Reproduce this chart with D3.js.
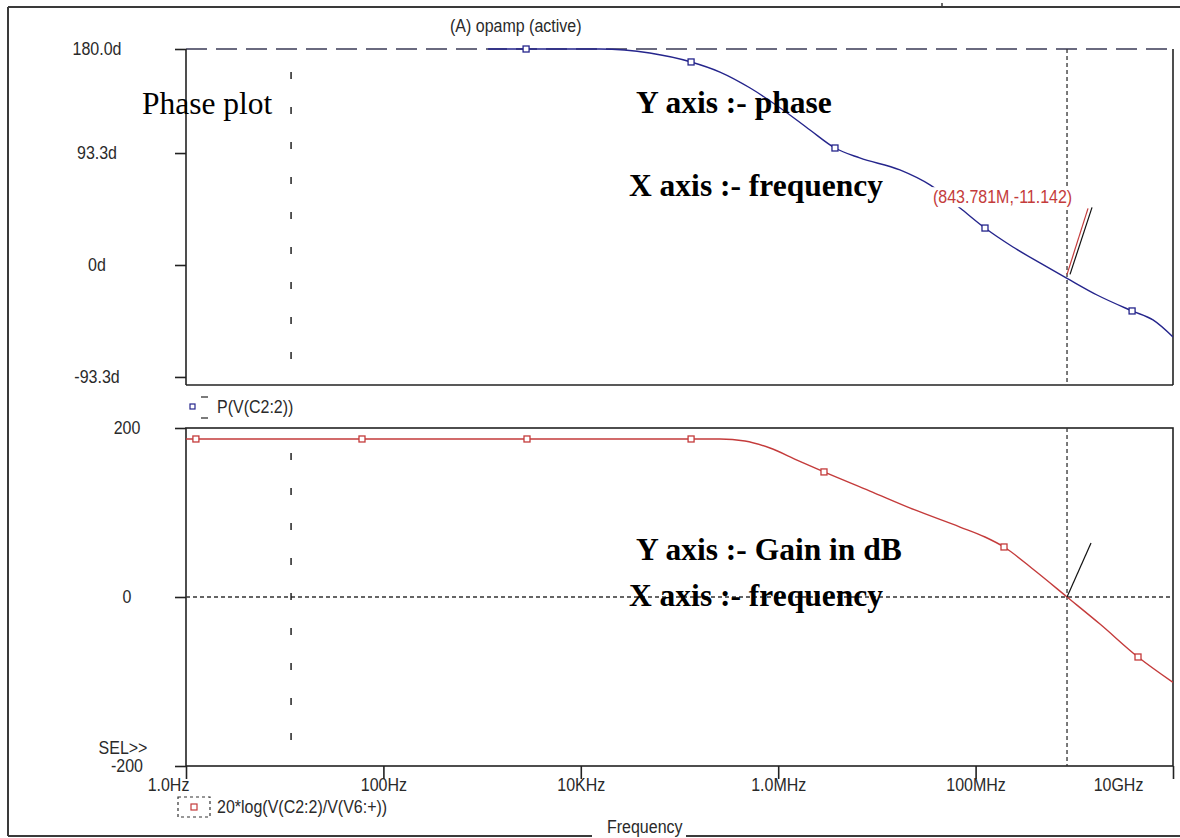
<!DOCTYPE html>
<html>
<head>
<meta charset="utf-8">
<script src="https://cdn.jsdelivr.net/npm/d3@7"></script>
<style>
  html, body { margin: 0; padding: 0; background: #fff; }
  svg { display: block; }
</style>
</head>
<body>
<svg id="chart" width="1180" height="838"></svg>
<script>
// ---- data -------------------------------------------------------------
const decadeTicks  = [1, 1e2, 1e4, 1e6, 1e8, 1e10];
const decadeLabels = ["1.0Hz", "100Hz", "10KHz", "1.0MHz", "100MHz", "10GHz"];

const phaseTicks      = [180, 93.3, 0, -93.3];
const phaseTickLabels = ["180.0d", "93.3d", "0d", "-93.3d"];
const gainTicks       = [200, 0, -200];
const gainTickLabels  = ["200", "0", "-200"];

// P(V(C2:2)) in degrees vs frequency (Hz)
const phaseFreq = [1.15e3, 1.55e4, 5.0e4, 1.31e5, 2.57e5, 5.2e5, 1.12e6, 2.1e6, 3.76e6,
                   6.7e6, 1.71e7, 3.45e7, 6.95e7, 1.245e8, 2.39e8, 4.49e8, 8.44e8,
                   1.7e9, 3.85e9, 6.27e9, 1e10];
const phaseDeg  = [180, 180, 176.7, 169.2, 160.8, 147.5, 129.2, 112.5, 97.5,
                   89.2, 79.2, 66.7, 47.5, 30.8, 15, 1.7, -11.14,
                   -25, -38.3, -45.8, -60];
const phaseMarkFreq = [2.79e3, 1.31e5, 3.76e6, 1.245e8, 3.85e9];
const phaseMarkDeg  = [180, 169.2, 97.5, 30.8, -38.3];

// 20*log(V(C2:2)/V(V6:+)) in dB vs frequency (Hz)
const gainFreq = [1, 2.57e5, 4.6e5, 8.26e5, 1.55e6, 2.91e6, 8.5e6, 2.43e7, 6.95e7, 1.245e8,
                  1.94e8, 4.0e8, 8.44e8, 1.82e9, 4.42e9, 1e10];
const gainDb   = [187, 187, 184.6, 176.3, 162.1, 148, 125.4, 103, 82.8, 71,
                  59.2, 31, 0, -32, -71, -101];
const gainMarkFreq = [1.26, 60.7, 2.85e3, 1.31e5, 2.91e6, 1.94e8, 4.42e9];
const gainMarkDb   = [187, 187, 187, 187, 148, 59.2, -71];

const refLineFreq = 11.6;          // fixed vertical reference line
const cursorFreq  = 843.781e6;     // cursor A1
const cursorPhase = -11.142;
const cursorLabel = "(843.781M,-11.142)";

// ---- layout ------------------------------------------------------------
const svg = d3.select("#chart");
const L = 186, R = 1173;
const pTop = 49, pBot = 385;
const gTop = 428, gBot = 766;
const STRETCH = 1.12;              // PSpice screen font is slightly tall

const NAVY = "#25258c", RED = "#c43b3b", INK = "#222";
const SANS = "'Liberation Sans', Arial, sans-serif";
const SERIF = "'Liberation Serif', 'Times New Roman', serif";

const x  = d3.scaleLog().domain([1, 1e10]).range([L, R]);
const yP = d3.scaleLinear().domain([-100, 180]).range([pBot, pTop]);
const yG = d3.scaleLinear().domain([-200, 200]).range([gBot, gTop]);

const defs = svg.append("defs");
defs.append("clipPath").attr("id", "clipP").append("rect")
  .attr("x", L).attr("y", pTop - 2).attr("width", R - L).attr("height", pBot - pTop + 2);
defs.append("clipPath").attr("id", "clipG").append("rect")
  .attr("x", L).attr("y", gTop).attr("width", R - L).attr("height", gBot - gTop);

// outer window frame
const frame = svg.append("g").attr("stroke", "#3a3a3a").attr("stroke-width", 2).attr("fill", "none");
frame.append("line").attr("x1", 8).attr("y1", 7).attr("x2", 8).attr("y2", 836);
frame.append("line").attr("x1", 8).attr("y1", 7).attr("x2", 1180).attr("y2", 7);
frame.append("line").attr("x1", 8).attr("y1", 836).attr("x2", 592).attr("y2", 836);
frame.append("line").attr("x1", 686).attr("y1", 836).attr("x2", 1180).attr("y2", 836);
frame.append("line").attr("x1", 942).attr("y1", 3).attr("x2", 942).attr("y2", 8).attr("stroke-width", 1.5);

// ---- plot boxes ----------------------------------------------------------
const box = svg.append("g").attr("stroke", INK).attr("stroke-width", 1.6).attr("fill", "none");
// phase plot: dashed top edge, solid left/right/bottom
box.append("line").attr("x1", L).attr("y1", pTop).attr("x2", R).attr("y2", pTop)
  .attr("stroke", "#3a3a55").attr("stroke-dasharray", "21,9");
box.append("line").attr("x1", L).attr("y1", pTop).attr("x2", L).attr("y2", pBot);
box.append("line").attr("x1", R).attr("y1", pTop).attr("x2", R).attr("y2", pBot);
box.append("line").attr("x1", L).attr("y1", pBot).attr("x2", R).attr("y2", pBot);
// gain plot
box.append("rect").attr("x", L).attr("y", gTop).attr("width", R - L).attr("height", gBot - gTop);

// zero-dB grid line
svg.append("line")
  .attr("x1", L).attr("x2", R).attr("y1", yG(0)).attr("y2", yG(0))
  .attr("stroke", "#333").attr("stroke-width", 1.3).attr("stroke-dasharray", "4,3");

// reference line (sparse dashes) in both plots
[[pTop, pBot, 12], [gTop, gBot, 10]].forEach(([a, b, off]) => {
  svg.append("line")
    .attr("x1", x(refLineFreq)).attr("x2", x(refLineFreq)).attr("y1", a).attr("y2", b)
    .attr("stroke", INK).attr("stroke-width", 1.5)
    .attr("stroke-dasharray", "7,28").attr("stroke-dashoffset", off);
});

// cursor line in both plots
[[pTop, pBot], [gTop, gBot]].forEach(([a, b]) => {
  svg.append("line")
    .attr("x1", x(cursorFreq)).attr("x2", x(cursorFreq)).attr("y1", a).attr("y2", b)
    .attr("stroke", "#333").attr("stroke-width", 1.3).attr("stroke-dasharray", "4,3");
});

// ---- axes --------------------------------------------------------------
function styleAxis(g) {
  g.select(".domain").remove();
  g.selectAll(".tick line").attr("stroke", INK).attr("stroke-width", 1.6);
  g.selectAll(".tick text").attr("fill", "#2a2a2a")
    .style("font-family", SANS).style("font-size", "16px")
    .attr("transform", `scale(1,${STRETCH})`);
}

const axP = svg.append("g").attr("transform", `translate(${L},0)`)
  .call(d3.axisLeft(yP).tickValues(phaseTicks).tickSize(11)
    .tickFormat((d, i) => phaseTickLabels[i]));
styleAxis(axP);
axP.selectAll(".tick text").attr("x", -89).attr("text-anchor", "middle");

const axG = svg.append("g").attr("transform", `translate(${L},0)`)
  .call(d3.axisLeft(yG).tickValues(gainTicks).tickSize(11)
    .tickFormat((d, i) => gainTickLabels[i]));
styleAxis(axG);
axG.selectAll(".tick text").attr("x", -59).attr("text-anchor", "middle");

const axX = svg.append("g").attr("transform", `translate(0,${gBot})`)
  .call(d3.axisBottom(x).tickValues(decadeTicks).tickSize(13)
    .tickFormat((d, i) => decadeLabels[i]));
styleAxis(axX);
axX.selectAll(".tick text").attr("y", 25 / STRETCH).attr("dy", 0)
  .attr("dx", (d, i) => i === 0 ? -18 : (i === decadeTicks.length - 1 ? -55 : 0));

// ---- traces --------------------------------------------------------------
const phasePts = phaseFreq.map((f, i) => [f, phaseDeg[i]]);
const gainPts  = gainFreq.map((f, i) => [f, gainDb[i]]);

svg.append("path").datum(phasePts)
  .attr("clip-path", "url(#clipP)")
  .attr("fill", "none").attr("stroke", NAVY).attr("stroke-width", 1.4)
  .attr("d", d3.line().x(d => x(d[0])).y(d => yP(d[1])).curve(d3.curveMonotoneX));

svg.append("path").datum(gainPts)
  .attr("clip-path", "url(#clipG)")
  .attr("fill", "none").attr("stroke", RED).attr("stroke-width", 1.4)
  .attr("d", d3.line().x(d => x(d[0])).y(d => yG(d[1])).curve(d3.curveMonotoneX));

const MK = 6;
svg.append("g").selectAll("rect")
  .data(phaseMarkFreq.map((f, i) => [f, phaseMarkDeg[i]]))
  .join("rect")
  .attr("x", d => x(d[0]) - MK / 2).attr("y", d => yP(d[1]) - MK / 2)
  .attr("width", MK).attr("height", MK)
  .attr("fill", "#fff").attr("stroke", NAVY).attr("stroke-width", 1.3);

svg.append("g").selectAll("rect")
  .data(gainMarkFreq.map((f, i) => [f, gainMarkDb[i]]))
  .join("rect")
  .attr("x", d => x(d[0]) - MK / 2).attr("y", d => yG(d[1]) - MK / 2)
  .attr("width", MK).attr("height", MK)
  .attr("fill", "#fff").attr("stroke", RED).attr("stroke-width", 1.3);

// cursor label leaders
const cx = x(cursorFreq), cyP = yP(cursorPhase), cyG = yG(0);
svg.append("line").attr("x1", cx).attr("y1", cyP - 4).attr("x2", cx + 21).attr("y2", cyP - 70)
  .attr("stroke", RED).attr("stroke-width", 1.2);
svg.append("line").attr("x1", cx + 3).attr("y1", cyP - 4).attr("x2", cx + 25).attr("y2", cyP - 71)
  .attr("stroke", "#111").attr("stroke-width", 1.2);
svg.append("line").attr("x1", cx).attr("y1", cyG).attr("x2", cx + 24).attr("y2", cyG - 54)
  .attr("stroke", "#111").attr("stroke-width", 1.2);

// ---- texts -----------------------------------------------------------------
function sans(txt, xx, yy, opts = {}) {
  return svg.append("text")
    .attr("transform", `translate(${xx},${yy}) scale(1,${STRETCH})`)
    .attr("text-anchor", opts.anchor || "start")
    .attr("fill", opts.fill || "#2a2a2a")
    .style("font-family", SANS).style("font-size", (opts.size || 16) + "px")
    .text(txt);
}
function serif(txt, xx, yy, bold) {
  return svg.append("text").attr("x", xx).attr("y", yy)
    .attr("fill", "#000")
    .style("font-family", SERIF).style("font-size", "31.5px")
    .style("font-weight", bold ? "bold" : "normal")
    .text(txt);
}

sans("(A) opamp (active)", 450, 32);

// cursor readout on a white plate so the trace passes behind it
const readout = sans(cursorLabel, 933, 203, { fill: RED });
const rb = readout.node().getBBox();
svg.insert("rect", () => readout.node())
  .attr("transform", readout.attr("transform"))
  .attr("x", rb.x - 2).attr("y", rb.y).attr("width", rb.width + 4).attr("height", rb.height)
  .attr("fill", "#fff");

sans("SEL>>", 123, 754, { anchor: "middle" });
sans("Frequency", 607, 833);

// legend: phase trace
svg.append("rect").attr("x", 190).attr("y", 404).attr("width", 5).attr("height", 5)
  .attr("fill", "#fff").attr("stroke", NAVY).attr("stroke-width", 1.2);
svg.append("line").attr("x1", 201).attr("x2", 208).attr("y1", 397).attr("y2", 397)
  .attr("stroke", "#333").attr("stroke-width", 1.3);
svg.append("line").attr("x1", 201).attr("x2", 208).attr("y1", 418).attr("y2", 418)
  .attr("stroke", "#333").attr("stroke-width", 1.3);
sans("P(V(C2:2))", 217, 413);

// legend: gain trace
svg.append("rect").attr("x", 178).attr("y", 797).attr("width", 32).attr("height", 20)
  .attr("fill", "none").attr("stroke", "#333").attr("stroke-width", 1.2)
  .attr("stroke-dasharray", "3,3");
svg.append("rect").attr("x", 191).attr("y", 804).attr("width", 6).attr("height", 6)
  .attr("fill", "#fff").attr("stroke", RED).attr("stroke-width", 1.2);
sans("20*log(V(C2:2)/V(V6:+))", 217, 813);

// annotations
serif("Phase plot", 142, 114, false);
serif("Y axis :- phase", 636, 113, true);
serif("X axis :- frequency", 629, 196, true);
serif("Y axis :- Gain in dB", 636, 560, true);
serif("X axis :- frequency", 629, 606, true);
</script>
</body>
</html>
